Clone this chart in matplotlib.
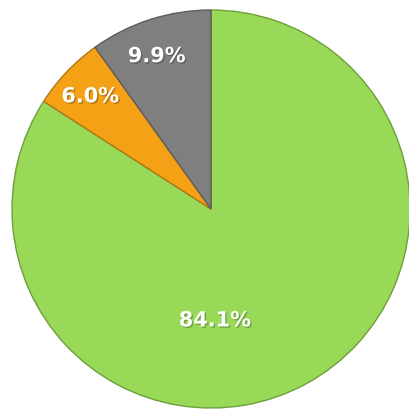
import numpy as np
import matplotlib
matplotlib.use("Agg")
import matplotlib.pyplot as plt
import matplotlib.patheffects as pe

## data
labels = ["A", "B", "C"]
shares = [84.1, 6.0, 9.9]

# plot parameters
colors = ["#98d957", "#f5a116", "#7f7f7f"]
edges = ["#6f9e3c", "#b47510", "#5c5c5c"]
# label placement: (radial distance, angle in degrees) per slice
labelPlace = [(0.56, -88.0), (0.83, 137.0), (0.815, 109.5)]
labelFont = 15

fig = plt.figure(figsize=(4.09, 4.12), dpi=100)
fig.set_facecolor("white")
ax = fig.add_axes([12 / 409, 4 / 412, 398 / 409, 398 / 412])

wedges, texts, autotexts = ax.pie(shares, colors=colors, startangle=90, counterclock=False,
                                  autopct="%1.1f%%", pctdistance=0.6, radius=1.0,
                                  wedgeprops=dict(linewidth=1.0))
for w, e in zip(wedges, edges):
	w.set_edgecolor(e)

for t, (r, a) in zip(autotexts, labelPlace):
	t.set_position((r * np.cos(np.radians(a)), r * np.sin(np.radians(a))))
	t.set_color("white")
	t.set_fontsize(labelFont)
	t.set_fontweight("bold")
	t.set_path_effects([pe.withSimplePatchShadow(offset=(1, -1), shadow_rgbFace="black", alpha=0.25)])

ax.set_xlim(-1.0, 1.0)
ax.set_ylim(-1.0, 1.0)
ax.set_aspect("equal")
ax.axis("off")

fig.savefig("out.png", dpi=100, facecolor="white")
